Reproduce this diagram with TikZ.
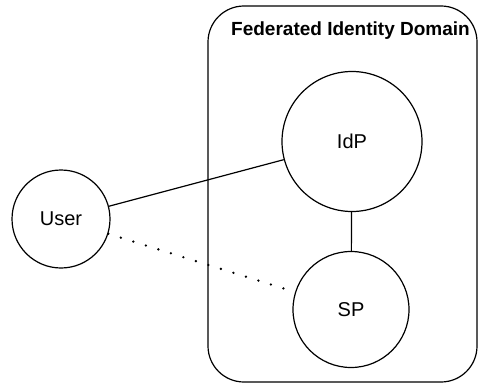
\documentclass[tikz,border=0pt]{standalone}
\usepackage{fontspec}
\setmainfont{Liberation Sans}
\begin{document}
\begin{tikzpicture}[x=1pt,y=-1pt,
  ent/.style={draw, circle, line width=1.2pt, inner sep=0pt, font=\fontsize{20}{24}\selectfont},
  link/.style={line width=1.2pt}]
\useasboundingbox (0,0) rectangle (478,385);
\draw[line width=1.2pt, rounded corners=36pt] (208,6) rectangle (477,382);
\node[font=\bfseries\fontsize{19}{23}\selectfont] (title) at (350.5,31) {Federated Identity Domain};
\node[ent, minimum size=98pt] (user) at (61,219) {User};
\node[ent, minimum size=140pt] (idp) at (352,141.5) {IdP};
\node[ent, minimum size=116pt] (sp) at (351,309.5) {SP};
\draw[link] (user) -- (idp);
\draw[line width=2.6pt, dash pattern=on 0pt off 13.1pt, line cap=round] (user) -- (sp);
\draw[link] (idp) -- (sp);
\end{tikzpicture}
\end{document}
